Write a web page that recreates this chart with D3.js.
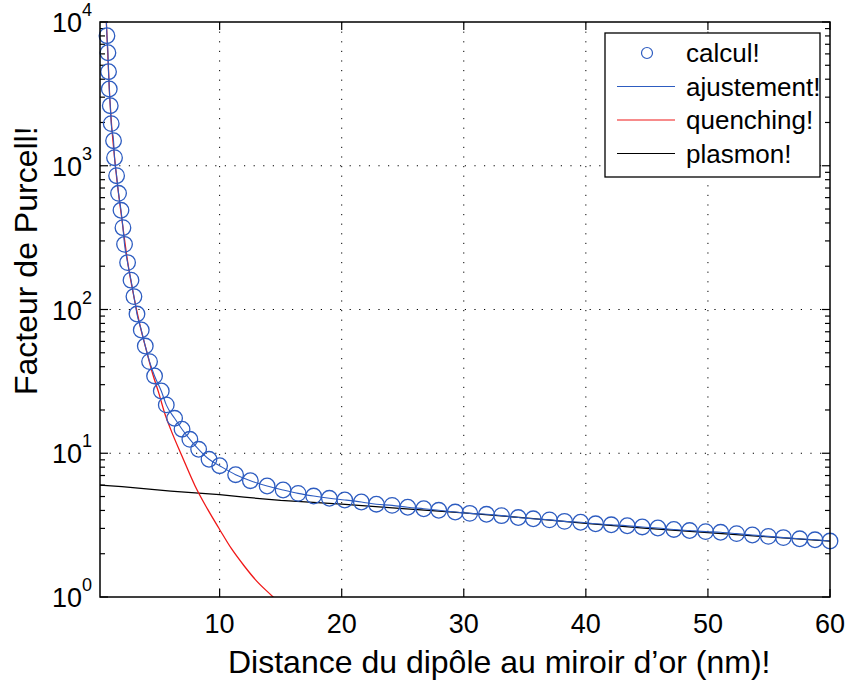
<!DOCTYPE html>
<html>
<head>
<meta charset="utf-8">
<title>Facteur de Purcell</title>
<script src="https://d3js.org/d3.v7.min.js"></script>
<style>
  body { margin: 0; background: #fff; }
  text { font-family: "Liberation Sans", Arial, sans-serif; fill: #000; }
  .grid { stroke: #000; stroke-width: 1; stroke-dasharray: 1.2,8.4; }
</style>
</head>
<body>
<script>
// calcul (circles)
var calcX = [0.77, 0.85, 0.90, 0.96, 1.04, 1.12, 1.31, 1.39, 1.56, 1.72, 1.92, 2.08, 2.21, 2.46, 2.74,
  2.98, 3.23, 3.58, 3.91, 4.26, 4.67, 5.22, 5.63, 6.31, 6.92, 7.56, 8.28, 9.13, 10.0, 11.31,
  12.52, 13.89, 15.20, 16.43, 17.70, 18.99, 20.25, 21.61, 22.84, 24.13, 25.41, 26.72, 27.95, 29.30,
  30.49, 31.86, 33.09, 34.46, 35.69, 37.02, 38.25, 39.57, 40.80, 42.08, 43.39, 44.62, 45.90, 47.21,
  48.50, 49.81, 51.04, 52.35, 53.64, 54.95, 56.18, 57.52, 58.77, 60.0];
var calcY = [8030, 6110, 4510, 3420, 2617, 1963, 1494, 1138, 853, 643, 490, 371, 284, 212, 160,
  123, 93, 72, 55.7, 43.4, 34.5, 27.1, 21.7, 17.5, 14.7, 12.5, 10.65, 9.08, 8.19, 7.09,
  6.44, 5.92, 5.55, 5.26, 5.04, 4.86, 4.73, 4.58, 4.42, 4.34, 4.21, 4.11, 4.01, 3.90,
  3.82, 3.76, 3.68, 3.57, 3.50, 3.44, 3.36, 3.31, 3.23, 3.18, 3.13, 3.07, 3.02, 2.95,
  2.90, 2.85, 2.82, 2.76, 2.70, 2.64, 2.59, 2.54, 2.50, 2.45];

// ajustement (fit) - starts at the top of the axes
var fitX = [0.72].concat(calcX);
var fitY = [10000].concat(calcY);

// quenching
var quenchX = [0.72, 1.0, 1.5, 2.0, 2.5, 3.0, 3.5, 4.0, 4.5, 5.0, 5.5, 6.0, 7.0, 8.0, 9.0, 10.0, 11.0, 12.0, 13.0, 14.38, 15.5];
var quenchY = [10000, 2950, 930, 420, 205, 120, 76, 52, 36, 26.5, 19, 14.6, 9.2, 5.9, 4.1, 2.95, 2.15, 1.65, 1.3, 1.0, 0.8];

// plasmon
var plasX = [0.2, 2, 4, 6, 8, 10, 12, 15, 20, 25, 30, 35, 40, 45, 50, 55, 60];
var plasY = [6.0, 5.85, 5.65, 5.45, 5.3, 5.15, 4.95, 4.7, 4.42, 4.12, 3.85, 3.55, 3.25, 3.0, 2.8, 2.62, 2.45];

var xTicks = [10, 20, 30, 40, 50, 60];
var yTicks = [1, 10, 100, 1000, 10000];
var legendLabels = ["calcul!", "ajustement!", "quenching!", "plasmon!"];

var width = 847, height = 682;
var pL = 100, pR = 830, pT = 22, pB = 597;
var blue = "#2d5cc0", red = "#f01818";

var svg = d3.select("body").append("svg")
  .attr("width", width)
  .attr("height", height);

var x = d3.scaleLinear().domain([0.2, 60]).range([pL, pR]);
var y = d3.scaleLog().domain([1, 10000]).range([pB, pT]);

svg.append("defs").append("clipPath").attr("id", "clip")
  .append("rect").attr("x", pL).attr("y", pT)
  .attr("width", pR - pL).attr("height", pB - pT);

// grid
var g = svg.append("g");
g.selectAll(".gx").data(xTicks.slice(0, -1)).enter().append("line")
  .attr("class", "grid")
  .attr("x1", d => x(d)).attr("x2", d => x(d))
  .attr("y1", pT).attr("y2", pB);
g.selectAll(".gy").data(yTicks.slice(1, -1)).enter().append("line")
  .attr("class", "grid")
  .attr("x1", pL).attr("x2", pR)
  .attr("y1", d => y(d)).attr("y2", d => y(d));

// ticks (inside)
var minor = [];
for (var k = 0; k < 4; k++) for (var m = 2; m < 10; m++) minor.push(m * Math.pow(10, k));
var ticks = svg.append("g").attr("stroke", "#000").attr("stroke-width", 1.2);
minor.forEach(function (v) {
  ticks.append("line").attr("x1", pL).attr("x2", pL + 5).attr("y1", y(v)).attr("y2", y(v));
  ticks.append("line").attr("x1", pR).attr("x2", pR - 5).attr("y1", y(v)).attr("y2", y(v));
});
yTicks.forEach(function (v) {
  ticks.append("line").attr("x1", pL).attr("x2", pL + 8).attr("y1", y(v)).attr("y2", y(v));
  ticks.append("line").attr("x1", pR).attr("x2", pR - 8).attr("y1", y(v)).attr("y2", y(v));
});
xTicks.forEach(function (v) {
  ticks.append("line").attr("x1", x(v)).attr("x2", x(v)).attr("y1", pB).attr("y2", pB - 8);
  ticks.append("line").attr("x1", x(v)).attr("x2", x(v)).attr("y1", pT).attr("y2", pT + 8);
});

// curves
var plot = svg.append("g").attr("clip-path", "url(#clip)");
var line = d3.line().x(d => x(d[0])).y(d => y(d[1])).curve(d3.curveMonotoneX);

plot.append("path")
  .datum(d3.zip(plasX, plasY))
  .attr("fill", "none").attr("stroke", "#000").attr("stroke-width", 1.3)
  .attr("d", d3.line().x(d => x(d[0])).y(d => y(d[1])));

plot.append("path")
  .datum(d3.zip(quenchX, quenchY))
  .attr("fill", "none").attr("stroke", red).attr("stroke-width", 1.3)
  .attr("d", line);

plot.append("path")
  .datum(d3.zip(fitX, fitY))
  .attr("fill", "none").attr("stroke", blue).attr("stroke-width", 1.1)
  .attr("d", line);

svg.append("g").selectAll("circle")
  .data(d3.zip(calcX, calcY)).enter()
  .append("circle")
  .attr("cx", d => x(d[0]))
  .attr("cy", d => y(d[1]))
  .attr("r", 7.8)
  .attr("fill", "none")
  .attr("stroke", blue)
  .attr("stroke-width", 1.3);

// frame
svg.append("rect")
  .attr("x", pL).attr("y", pT)
  .attr("width", pR - pL).attr("height", pB - pT)
  .attr("fill", "none").attr("stroke", "#000").attr("stroke-width", 1.5);

// tick labels
svg.append("g").selectAll("text").data(xTicks).enter().append("text")
  .attr("x", d => x(d)).attr("y", 633)
  .attr("text-anchor", "middle")
  .style("font-size", "27px")
  .text(d => d);

var yl = svg.append("g").selectAll("g").data(yTicks).enter().append("g");
yl.append("text")
  .attr("x", 82).attr("y", d => y(d) + 10)
  .attr("text-anchor", "end")
  .style("font-size", "27px")
  .text("10");
yl.append("text")
  .attr("x", 82).attr("y", d => y(d) - 6)
  .style("font-size", "18px")
  .text(d => Math.round(Math.log10(d)));

// axis labels
svg.append("text")
  .attr("x", 228).attr("y", 673)
  .style("font-size", "32px")
  .text("Distance du dipôle au miroir d\u2019or (nm)!");

svg.append("text")
  .attr("transform", "translate(37,395) rotate(-90)")
  .style("font-size", "32px")
  .text("Facteur de Purcell!");

// legend
var lg = svg.append("g");
lg.append("rect")
  .attr("x", 605).attr("y", 33).attr("width", 215).attr("height", 144)
  .attr("fill", "#fff").attr("stroke", "#000").attr("stroke-width", 1.3);
var rows = [53, 86.5, 120, 153.5];
lg.append("circle").attr("cx", 647).attr("cy", rows[0]).attr("r", 5.5)
  .attr("fill", "none").attr("stroke", blue).attr("stroke-width", 1.2);
var lcol = [blue, red, "#000"];
lcol.forEach(function (c, i) {
  lg.append("line").attr("x1", 617).attr("x2", 675)
    .attr("y1", rows[i + 1]).attr("y2", rows[i + 1])
    .attr("stroke", c).attr("stroke-width", 1.2);
});
lg.selectAll("text").data(legendLabels).enter().append("text")
  .attr("x", 686).attr("y", (d, i) => rows[i] + 9)
  .style("font-size", "26px")
  .text(d => d);
</script>
</body>
</html>
